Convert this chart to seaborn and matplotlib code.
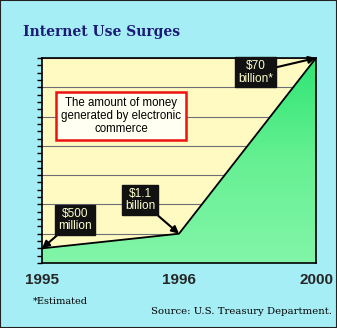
import numpy as np
import matplotlib
matplotlib.use("Agg")
import matplotlib.pyplot as plt
import seaborn as sns
from matplotlib.patches import Rectangle
from matplotlib.colors import LinearSegmentedColormap

# ---- data (chart is not drawn to scale) ----
categories = ["1995", "1996", "2000"]
heights = [0.5, 1.0, 7.0]          # vertical position in grid units
value_labels = ["$500\nmillion", "$1.1\nbillion", "$70\nbillion*"]
note_text = "The amount of money\ngenerated by electronic\ncommerce"
title_text = "Internet Use Surges"
footnote_text = "*Estimated"
source_text = "Source: U.S. Treasury Department."

sns.set_style("white")
plt.rcParams["font.family"] = ["Liberation Sans", "DejaVu Sans"]

W, H = 337, 328
fig = plt.figure(figsize=(W / 100, H / 100), dpi=100)
bg = "#a6eef6"
fig.patch.set_facecolor(bg)

L, R, T, B = 42, 316, 58, 263
ax = fig.add_axes([L / W, 1 - B / H, (R - L) / W, (B - T) / H])
ax.set_facecolor("#fff9c2")

x = np.arange(len(categories))
y = np.array(heights)

# gradient fill under the line
poly = ax.fill_between(x, y, 0, color="none", lw=0)
cmap = LinearSegmentedColormap.from_list("g", ["#82f5a8", "#66f093", "#2fe573"])
grad = np.linspace(0, 1, 256).reshape(-1, 1)
im = ax.imshow(grad, extent=[0, 2, 0, 7], origin="lower", aspect="auto",
               cmap=cmap, zorder=1)
im.set_clip_path(poly.get_paths()[0], transform=ax.transData)

sns.lineplot(x=x, y=y, color="black", lw=1.3, ax=ax, zorder=3)

ax.set_xlim(0, 2)
ax.set_ylim(0, 7)
ax.set_yticks(np.arange(0, 8))
ax.set_yticks(np.arange(0, 7.01, 0.25), minor=True)
ax.set_yticklabels([])
ax.grid(axis="y", color="#6e6e78", lw=0.8, zorder=0)
ax.set_axisbelow(True)
ax.set_xticks(x)
ax.set_xticklabels(categories, fontsize=11, fontweight="bold",
                   family=["Liberation Sans", "DejaVu Sans"])
ax.tick_params(axis="x", direction="out", length=3, width=1, pad=4, color="black")
ax.tick_params(axis="y", which="both", direction="out", length=3.5, width=1,
               left=True, color="black")
for s in ax.spines.values():
    s.set_color("black")
    s.set_linewidth(1.2)
    s.set_visible(True)
    s.set_zorder(4)

# value annotations
box_pos = [(0.24, 1.47), (0.715, 2.15), (1.56, 6.52)]
for xi, yi, lab, (bx, by) in zip(x, y, value_labels, box_pos):
    ax.annotate(lab, xy=(xi, yi), xytext=(bx, by), ha="center", va="center",
                fontsize=8.5, color="#ffffcc", linespacing=1.1,
                bbox=dict(boxstyle="square,pad=0.25", fc="#111111", ec="#111111"),
                arrowprops=dict(arrowstyle="-|>,head_length=0.5,head_width=0.25",
                                color="black", lw=1.5, shrinkA=0, shrinkB=0),
                annotation_clip=False, zorder=5)

ax.text(0.577, 5.02, note_text, ha="center", va="center", fontsize=8.3,
        color="black", linespacing=1.15, zorder=5,
        bbox=dict(boxstyle="square,pad=0.4", fc="#fffff2", ec="#ee1111", lw=1.8))

fig.text(23 / W, 1 - 32 / H, title_text, ha="left", va="center",
         fontsize=10, fontweight="bold", color="#1c1c78",
         family=["DejaVu Serif"])
fig.text(33 / W, 1 - 301 / H, footnote_text, ha="left", va="center",
         fontsize=7, color="black", family=["DejaVu Serif"])
fig.text(332 / W, 1 - 311 / H, source_text, ha="right", va="center",
         fontsize=7.3, color="black", family=["DejaVu Serif"])

fig.patches.append(Rectangle((0, 0), 1, 1, transform=fig.transFigure,
                             fill=False, ec="#222222", lw=1.5))

fig.savefig("out.png", dpi=100, facecolor=fig.get_facecolor())
